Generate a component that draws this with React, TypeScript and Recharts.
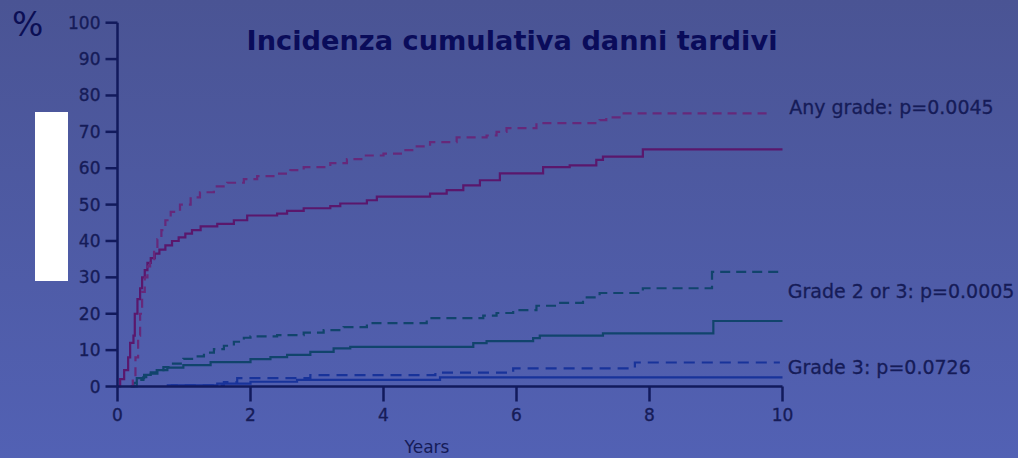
import { LineChart, Line, XAxis, YAxis } from 'recharts';

// [years, %]
const anyGradeArmA: [number, number][] = [
  [0, 0], [0.04, 2], [0.1, 4.5], [0.16, 8], [0.19, 12], [0.24, 14], [0.26, 20], [0.3, 24],
  [0.34, 27], [0.37, 30], [0.41, 32], [0.45, 34], [0.5, 35.3], [0.56, 36.5], [0.63, 37.6],
  [0.72, 38.8], [0.82, 40], [0.92, 41], [1.02, 42], [1.12, 43], [1.25, 44], [1.5, 44.7],
  [1.75, 45.7], [1.95, 47], [2.4, 47.5], [2.55, 48.3], [2.8, 49], [3.2, 49.6], [3.35, 50.3],
  [3.75, 51.2], [3.9, 52.2], [4.7, 53], [4.95, 54], [5.2, 55.3], [5.45, 56.7], [5.75, 58.6],
  [6.4, 60.3], [6.8, 60.8], [7.2, 62.3], [7.3, 63.2], [7.9, 65.2], [10, 65.2],
];
const anyGradeArmB: [number, number][] = [
  [0.2, 0], [0.23, 2], [0.27, 8], [0.31, 14], [0.34, 20], [0.37, 26], [0.41, 30], [0.45, 33],
  [0.49, 35], [0.55, 38], [0.6, 40.5], [0.66, 43], [0.72, 45.7], [0.8, 48], [0.94, 50],
  [1.1, 52], [1.24, 53.4], [1.45, 55], [1.65, 56], [1.9, 57], [2.1, 57.8], [2.4, 58.5],
  [2.6, 59.5], [2.8, 60.3], [3.2, 61.4], [3.45, 62.5], [3.7, 63.5], [4.0, 64], [4.3, 65],
  [4.5, 66], [4.7, 67.2], [5.1, 68.5], [5.55, 69], [5.7, 70], [5.85, 71], [6.3, 72.4],
  [7.25, 73.2], [7.35, 74], [7.55, 75.1], [9.8, 75.1],
];
const grade23ArmA: [number, number][] = [
  [0.2, 0], [0.29, 2.3], [0.4, 3.2], [0.5, 3.9], [0.59, 4.5], [0.75, 5.2], [0.99, 5.9],
  [1.4, 6.7], [2.0, 7.5], [2.3, 8.1], [2.55, 8.7], [2.9, 9.5], [3.25, 10.5], [3.5, 10.9],
  [5.35, 11.9], [5.55, 12.5], [6.25, 13.3], [6.35, 14], [7.3, 14.6], [8.96, 18], [10, 18],
];
const grade23ArmB: [number, number][] = [
  [0.2, 0], [0.24, 1], [0.3, 1.8], [0.39, 2.6], [0.5, 3.5], [0.6, 4.5], [0.69, 5.3],
  [0.8, 6.3], [0.99, 7.6], [1.14, 8.3], [1.3, 9.3], [1.45, 10.3], [1.6, 11.2], [1.75, 12.3],
  [1.9, 13.4], [2.0, 13.8], [2.4, 14.1], [2.8, 14.8], [3.1, 15.5], [3.4, 16.3], [3.75, 17.4],
  [4.65, 18.8], [5.5, 19.5], [5.7, 20.2], [5.95, 21], [6.3, 22.2], [6.6, 23], [7.0, 24.5],
  [7.25, 25.7], [7.9, 27], [8.94, 31.5], [9.96, 31.5],
];
const grade3ArmA: [number, number][] = [
  [0.8, 0.3], [1.5, 0.8], [2.0, 1.3], [2.7, 1.8], [4.85, 2.5], [10, 2.5],
];
const grade3ArmB: [number, number][] = [
  [0.74, 0.3], [1.6, 1.2], [1.8, 2.3], [2.9, 3.1], [4.78, 3.8], [5.95, 5], [7.78, 6.6], [9.96, 6.6],
];

const xTicks = [0, 2, 4, 6, 8, 10];
const yTicks = [0, 10, 20, 30, 40, 50, 60, 70, 80, 90, 100];
const endLabels = ['Any grade: p=0.0045', 'Grade 2 or 3: p=0.0005', 'Grade 3: p=0.0726'];

const toRows = (pts: [number, number][]) => pts.map(([x, y]) => ({ x, y }));

const NAVY = '#121a5c';
const TEXT = '#161c58';
const tickFont = {
  fontFamily: 'DejaVu Sans',
  fontSize: 17,
  fill: TEXT,
  stroke: TEXT,
  strokeWidth: 0.35,
};

function endLabel(text: string, count: number, dx: number, dy: number) {
  return (p: any) => {
    if (p.index !== count - 1) return null;
    return (
      <text
        key={text}
        x={p.x + dx}
        y={p.y + dy}
        dominantBaseline="central"
        fontFamily="DejaVu Sans"
        fontSize={19}
        fill={TEXT}
        stroke={TEXT}
        strokeWidth={0.3}
      >
        {text}
      </text>
    );
  };
}

export default function App() {
  return (
    <div
      style={{
        position: 'fixed',
        top: 0,
        left: 0,
        width: 1018,
        height: 458,
        background: 'linear-gradient(#4a5494, #5261b4)',
        overflow: 'hidden',
      }}
    >
      <div
        style={{
          position: 'absolute',
          left: 12,
          top: 5,
          fontFamily: 'DejaVu Sans',
          fontSize: 33,
          color: '#0c0f55',
        }}
      >
        %
      </div>
      <div style={{ position: 'absolute', left: 35, top: 112, width: 33, height: 169, background: '#fff' }} />
      <svg width={1018} height={60} style={{ position: 'absolute', left: 0, top: 0 }}>
        <text
          x={512}
          y={50}
          textAnchor="middle"
          fontFamily="DejaVu Sans"
          fontWeight="bold"
          fontSize={27}
          fill="#0a0c5a"
          textLength={531}
          lengthAdjust="spacingAndGlyphs"
        >
          Incidenza cumulativa danni tardivi
        </text>
      </svg>
      <div style={{ position: 'absolute', left: 0, top: 0 }}>
        <LineChart width={1018} height={458} margin={{ top: 22.7, right: 235.5, bottom: 5.5, left: 57.5 }}>
          <XAxis
            type="number"
            dataKey="x"
            domain={[0, 10]}
            ticks={xTicks}
            allowDuplicatedCategory={false}
            height={66}
            tickSize={15}
            tickMargin={7}
            axisLine={{ stroke: NAVY, strokeWidth: 2.5 }}
            tickLine={{ stroke: NAVY, strokeWidth: 2.5 }}
            tick={tickFont}
            label={{
              value: 'Years',
              position: 'insideBottom',
              offset: 0,
              dx: -23,
              style: { fontFamily: 'DejaVu Sans', fontSize: 17, fill: TEXT },
            }}
          />
          <YAxis
            type="number"
            domain={[0, 100]}
            ticks={yTicks}
            width={60}
            tickSize={12}
            tickMargin={5}
            axisLine={{ stroke: NAVY, strokeWidth: 2.5 }}
            tickLine={{ stroke: NAVY, strokeWidth: 2.5 }}
            tick={tickFont}
          />
          <Line
            data={toRows(grade3ArmA)}
            dataKey="y"
            type="stepAfter"
            stroke="#18339a"
            strokeWidth={2.2}
            dot={false}
            isAnimationActive={false}
          />
          <Line
            data={toRows(grade3ArmB)}
            dataKey="y"
            type="stepAfter"
            stroke="#18339a"
            strokeWidth={2.2}
            strokeDasharray="11 7"
            dot={false}
            isAnimationActive={false}
            label={endLabel(endLabels[2], grade3ArmB.length, 8, 5)}
          />
          <Line
            data={toRows(grade23ArmA)}
            dataKey="y"
            type="stepAfter"
            stroke="#11446c"
            strokeWidth={2.2}
            dot={false}
            isAnimationActive={false}
          />
          <Line
            data={toRows(grade23ArmB)}
            dataKey="y"
            type="stepAfter"
            stroke="#11446c"
            strokeWidth={2.2}
            strokeDasharray="10 6"
            dot={false}
            isAnimationActive={false}
            label={endLabel(endLabels[1], grade23ArmB.length, 8, 19)}
          />
          <Line
            data={toRows(anyGradeArmA)}
            dataKey="y"
            type="stepAfter"
            stroke="#5a176c"
            strokeWidth={2.2}
            dot={false}
            isAnimationActive={false}
          />
          <Line
            data={toRows(anyGradeArmB)}
            dataKey="y"
            type="stepAfter"
            stroke="#66287a"
            strokeWidth={2.2}
            strokeDasharray="9 6"
            dot={false}
            isAnimationActive={false}
            label={endLabel(endLabels[0], anyGradeArmB.length, 20, -6)}
          />
        </LineChart>
      </div>
    </div>
  );
}
